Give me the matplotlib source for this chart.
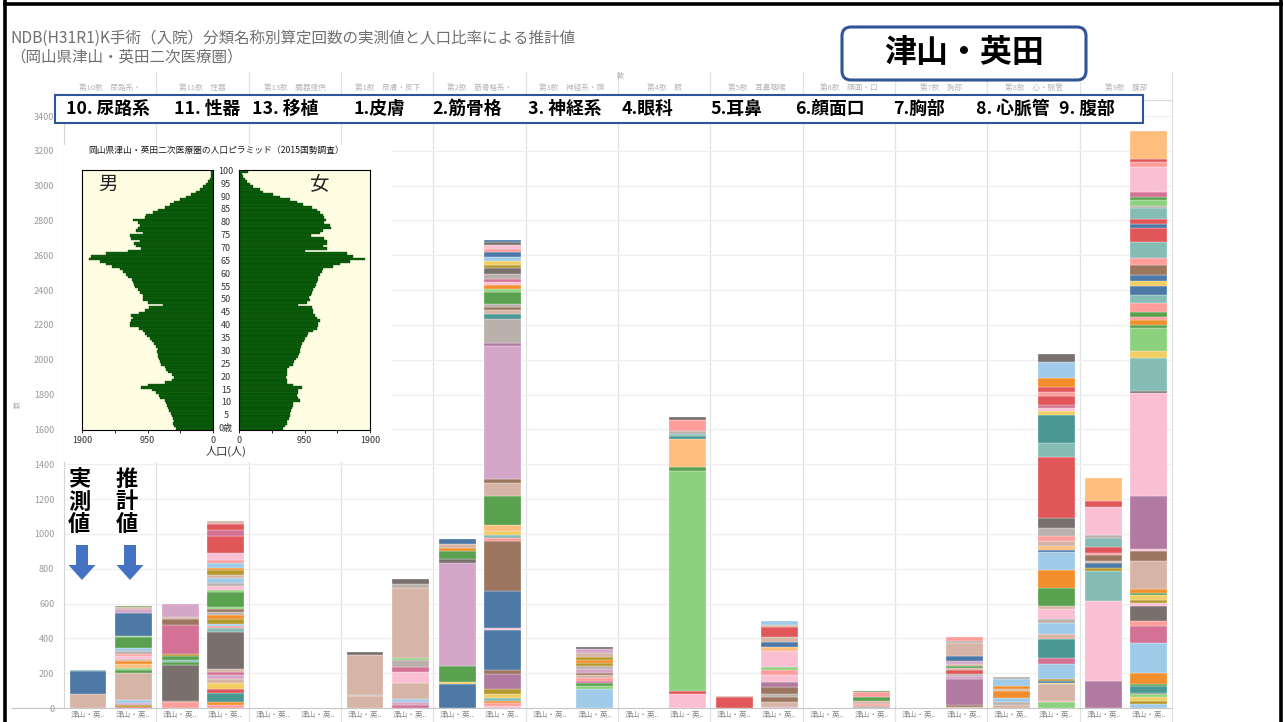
import matplotlib
matplotlib.use("Agg")
import matplotlib.pyplot as plt
from matplotlib.patches import FancyBboxPatch, FancyArrow, Rectangle
from matplotlib.transforms import blended_transform_factory

plt.rcParams['font.family'] = ['Noto Sans CJK JP', 'DejaVu Sans']

# ===== DATA =====

title_lines = ["NDB(H31R1)K手術（入院）分類名称別算定回数の実測値と人口比率による推計値",
               "（岡山県津山・英田二次医療圏）"]
region_name = "津山・英田"
box_labels = ["10. 尿路系", "11. 性器", "13. 移植", "1.皮膚", "2.筋骨格", "3. 神経系",
              "4.眼科", "5.耳鼻", "6.顔面口", "7.胸部", "8. 心脈管", "9. 腹部"]
header_labels = ["第10款　尿路系・", "第11款　性器", "第13款　臓器提供", "第1款　皮膚・皮下",
                 "第2款　筋骨格系・", "第3款　神経系・頭", "第4款　眼", "第5款　耳鼻咽喉",
                 "第6款　顔面・口", "第7款　胸部", "第8款　心・脈管", "第9款　腹部"]
bar_label = "津山・英.."
y_ticks = list(range(0, 3401, 200))

# stacked segments, bottom -> top: (count, colour key)
uro_act = [(80, 'lbrown'), (135, 'blue'), (5, 'lteal')]
uro_est = [(8, 'red'), (10, 'olive'), (12, 'lpurple'), (15, 'lblue'), (158, 'lbrown'), (13, 'green'),
           (15, 'lgreen'), (19, 'lorange'), (19, 'orange'), (15, 'lbrown'), (13, 'lpink'), (13, 'lred'),
           (19, 'lgray'), (15, 'lblue'), (62, 'green'), (10, 'lgreen'), (131, 'blue'), (19, 'lpurple'),
           (15, 'lbrown'), (6, 'green')]
gen_act = [(33, 'lred'), (6, 'brown'), (206, 'gray'), (19, 'green'), (13, 'lteal'), (19, 'green'),
           (12, 'olive'), (168, 'pink'), (33, 'brown'), (15, 'lbrown'), (71, 'lpurple')]
gen_est = [(19, 'lred'), (14, 'orange'), (52, 'teal'), (25, 'red'), (33, 'yellow'), (25, 'lbrown'),
           (19, 'lpurple'), (20, 'pink'), (19, 'lbrown'), (212, 'gray'), (19, 'lteal'), (14, 'lred'),
           (12, 'lblue'), (30, 'olive'), (22, 'orange'), (19, 'lgray'), (13, 'brown'), (12, 'lgreen'),
           (86, 'green'), (15, 'lgreen'), (20, 'lpink'), (20, 'lgray'), (25, 'lblue'), (20, 'lbrown'),
           (25, 'olive'), (15, 'orange'), (25, 'lblue'), (20, 'lred'), (40, 'lpink'), (95, 'red'),
           (35, 'pink'), (35, 'red'), (20, 'lbrown')]
tra_act = []
tra_est = []
skin_act = [(70, 'lbrown'), (5, 'lgray'), (230, 'lbrown'), (15, 'gray')]
skin_est = [(19, 'pink'), (13, 'lpurple'), (19, 'lblue'), (95, 'lbrown'), (58, 'lpink'), (32, 'pink'),
            (38, 'lgray'), (15, 'lgreen'), (400, 'lbrown'), (23, 'lgray'), (30, 'gray')]
msk_act = [(138, 'blue'), (10, 'yellow'), (95, 'green'), (592, 'lpurple'), (19, 'gray'), (48, 'green'),
           (19, 'orange'), (23, 'lbrown'), (29, 'blue')]
msk_est = [(13, 'lpink'), (13, 'lred'), (15, 'orange'), (19, 'lteal'), (19, 'yellow'), (29, 'olive'),
           (90, 'purple'), (19, 'brown'), (229, 'blue'), (11, 'lpink'), (214, 'blue'), (290, 'brown'),
           (15, 'lred'), (19, 'lteal'), (23, 'yellow'), (34, 'lorange'), (168, 'green'), (71, 'lbrown'),
           (25, 'brown'), (764, 'lpurple'), (19, 'purple'), (134, 'lgray'), (32, 'teal'), (19, 'lbrown'),
           (19, 'brown'), (19, 'lgray'), (67, 'green'), (19, 'lgreen'), (19, 'orange'), (19, 'lpink'),
           (19, 'pink'), (29, 'lgray'), (32, 'gray'), (19, 'olive'), (25, 'yellow'), (19, 'lblue'),
           (29, 'blue'), (19, 'lred'), (23, 'lpink'), (15, 'gray'), (15, 'blue')]
ner_act = []
ner_est = [(109, 'lblue'), (19, 'lgreen'), (13, 'green'), (15, 'pink'), (15, 'lred'), (19, 'lbrown'),
           (13, 'brown'), (19, 'lpurple'), (19, 'lgray'), (15, 'olive'), (19, 'orange'), (19, 'olive'),
           (23, 'lbrown'), (19, 'lpurple'), (15, 'gray')]
eye_act = []
eye_est = [(80, 'lpink'), (20, 'red'), (1264, 'lgreen'), (19, 'green'), (160, 'lorange'), (19, 'teal'),
           (12, 'lteal'), (15, 'lgray'), (63, 'lred'), (17, 'gray')]
ent_act = [(62, 'red'), (8, 'lbrown')]
ent_est = [(8, 'lpurple'), (25, 'lbrown'), (29, 'brown'), (19, 'lgray'), (38, 'brown'), (29, 'purple'),
           (44, 'lpink'), (27, 'lred'), (19, 'lgreen'), (92, 'lpink'), (23, 'lorange'), (25, 'blue'),
           (32, 'lbrown'), (54, 'red'), (15, 'lbrown'), (19, 'lblue')]
fac_act = []
fac_est = [(12, 'lgray'), (11, 'lred'), (19, 'lbrown'), (19, 'green'), (29, 'lred'), (10, 'green')]
chest_act = []
chest_est = [(8, 'lbrown'), (11, 'brown'), (147, 'purple'), (19, 'lpurple'), (13, 'lgray'), (19, 'red'),
             (15, 'lbrown'), (10, 'green'), (13, 'lbrown'), (15, 'lpurple'), (29, 'blue'), (76, 'lbrown'),
             (10, 'lgray'), (25, 'lred')]
card_act = [(19, 'lbrown'), (13, 'lgray'), (25, 'lblue'), (38, 'orange'), (13, 'lbrown'), (19, 'orange'),
            (38, 'lblue'), (13, 'lgray')]
card_est = [(33, 'lgreen'), (9, 'lred'), (94, 'lbrown'), (10, 'yellow'), (9, 'blue'), (10, 'olive'),
            (86, 'lblue'), (38, 'pink'), (105, 'teal'), (29, 'lbrown'), (67, 'lblue'), (19, 'lgray'),
            (57, 'lpink'), (19, 'lbrown'), (105, 'green'), (105, 'orange'), (101, 'lblue'), (14, 'blue'),
            (20, 'lorange'), (28, 'lbrown'), (28, 'lred'), (48, 'lgray'), (57, 'gray'), (348, 'red'),
            (82, 'lteal'), (159, 'teal'), (27, 'yellow'), (15, 'lpink'), (19, 'pink'), (49, 'red'),
            (25, 'lred'), (31, 'red'), (52, 'orange'), (92, 'lblue'), (45, 'gray')]
abd_act = [(157, 'purple'), (459, 'lpink'), (168, 'lteal'), (19, 'olive'), (29, 'blue'), (10, 'lbrown'),
           (38, 'brown'), (10, 'lred'), (32, 'red'), (54, 'lteal'), (19, 'lgray'), (162, 'lpink'),
           (32, 'red'), (134, 'lorange')]
abd_est = [(21, 'lblue'), (19, 'olive'), (23, 'yellow'), (15, 'lgreen'), (10, 'gray'), (38, 'teal'),
           (14, 'green'), (63, 'orange'), (172, 'lblue'), (95, 'pink'), (29, 'lred'), (86, 'gray'),
           (19, 'lpink'), (19, 'olive'), (25, 'yellow'), (13, 'green'), (23, 'orange'), (159, 'lbrown'),
           (58, 'brown'), (10, 'lpink'), (305, 'purple'), (592, 'lpink'), (10, 'gray'), (195, 'lteal'),
           (38, 'yellow'), (130, 'lgreen'), (19, 'green'), (29, 'orange'), (19, 'lred'), (29, 'green'),
           (48, 'lred'), (48, 'lteal'), (48, 'blue'), (32, 'yellow'), (35, 'blue'), (57, 'brown'),
           (39, 'lred'), (95, 'lteal'), (76, 'red'), (23, 'blue'), (31, 'red'), (61, 'lteal'),
           (15, 'lgray'), (33, 'lgreen'), (19, 'green'), (29, 'pink'), (144, 'lpink'), (25, 'lred'),
           (19, 'red'), (162, 'lorange')]

actual = [uro_act, gen_act, tra_act, skin_act, msk_act, ner_act,
          eye_act, ent_act, fac_act, chest_act, card_act, abd_act]
estimate = [uro_est, gen_est, tra_est, skin_est, msk_est, ner_est,
            eye_est, ent_est, fac_est, chest_est, card_est, abd_est]

# population pyramid, ages 0..100 (2015 census)
pyr_title = "岡山県津山・英田二次医療圏の人口ピラミッド（2015国勢調査）"
ages = list(range(101))
pop_male = [530, 560, 575, 570, 585, 600, 610, 640, 650, 660,
            680, 700, 770, 790, 820, 890, 1040, 950, 690, 590,
            560, 600, 650, 680, 690, 760, 770, 780, 800, 795,
            805, 800, 820, 850, 880, 920, 960, 990, 1020, 1080,
            1200, 1210, 1185, 1160, 1190, 1070, 990, 930, 730, 940,
            1010, 1020, 1015, 1060, 1090, 1130, 1140, 1160, 1180, 1230,
            1260, 1300, 1350, 1470, 1550, 1640, 1800, 1770, 1550, 1240,
            1040, 1110, 1140, 1060, 1190, 1210, 1020, 1110, 1090, 1060,
            1090, 1160, 990, 970, 870, 800, 700, 630, 560, 480,
            390, 315, 240, 195, 145, 100, 75, 50, 35, 25, 25]
pop_female = [640, 660, 690, 700, 720, 740, 745, 760, 765, 780,
              790, 880, 850, 835, 850, 860, 910, 790, 690, 690,
              680, 690, 690, 700, 720, 790, 800, 830, 850, 870,
              880, 890, 905, 920, 940, 955, 990, 1005, 1080, 1125,
              1150, 1140, 1175, 1130, 1100, 1080, 1070, 1055, 860, 980,
              1030, 1020, 1050, 1060, 1070, 1100, 1110, 1130, 1140, 1150,
              1175, 1200, 1225, 1370, 1460, 1610, 1830, 1660, 1560, 960,
              1270, 1220, 1280, 1270, 1230, 1050, 1180, 1225, 1340, 1320,
              1230, 1260, 1240, 1225, 1175, 1130, 1055, 935, 840, 740,
              600, 500, 355, 305, 210, 160, 110, 85, 65, 50, 135]
pyr_ticks = [1900, 950, 0]

# ===== STYLE =====

TAB = {
    'blue': '#4E79A7', 'lblue': '#A0CBE8', 'orange': '#F28E2B', 'lorange': '#FFBE7D',
    'green': '#59A14F', 'lgreen': '#8CD17D', 'olive': '#B6992D', 'yellow': '#F1CE63',
    'teal': '#499894', 'lteal': '#86BCB6', 'red': '#E15759', 'lred': '#FF9D9A',
    'gray': '#79706E', 'lgray': '#BAB0AC', 'pink': '#D37295', 'lpink': '#FABFD2',
    'purple': '#B07AA1', 'lpurple': '#D4A6C8', 'brown': '#9D7660', 'lbrown': '#D7B5A6',
}
FRAME_BLUE = '#2F5597'
ARROW_BLUE = '#4472C4'
GRID = '#EFEFEF'
SEP = '#E2E2E2'

W, H = 1284, 722
PLOT_L, PLOT_R, PLOT_T, PLOT_B = 64, 1172, 100, 708


def px_rect(x0, y0, x1, y1):
    return [x0 / W, 1 - y1 / H, (x1 - x0) / W, (y1 - y0) / H]


def pixel_axes(zorder):
    a = fig.add_axes([0, 0, 1, 1])
    a.set_xlim(0, W)
    a.set_ylim(H, 0)
    a.axis('off')
    a.set_zorder(zorder)
    a.patch.set_alpha(0)
    return a


fig = plt.figure(figsize=(W / 100, H / 100), dpi=100)
fig.patch.set_facecolor('white')

### ===== BACKGROUND LAYER (header row, separators, frame) =====

bg = pixel_axes(0)
n = len(box_labels)
pane_w = (PLOT_R - PLOT_L) / n
for i in range(1, n + 1):
    xs = PLOT_L + i * pane_w
    bg.plot([xs, xs], [72, 722], color=SEP, lw=0.9)
for i, lab in enumerate(header_labels):
    bg.text(PLOT_L + (i + 0.5) * pane_w, 88, lab, fontsize=5.5, color='#B5B5B5',
            ha='center', va='center')
bg.plot([PLOT_L, PLOT_R], [PLOT_T, PLOT_T], color='#DADADA', lw=0.9)
bg.plot([12, PLOT_L], [PLOT_B, PLOT_B], color='#C8C8C8', lw=0.9)
bg.text(620, 76, "款", fontsize=5, color='#AAAAAA', ha='center', va='center')
bg.text(18, 405, "数", fontsize=5, color='#AAAAAA', ha='center', va='center', rotation=90)

for i, lab in enumerate(title_lines):
    bg.text(10, 38 + i * 19, lab, fontsize=11.2, color='#707070', ha='left', va='center')

# slide frame
bg.plot([5, 5], [0, 722], color='black', lw=2.6, solid_capstyle='butt')
bg.plot([3, 1283], [4, 4], color='black', lw=2.6, solid_capstyle='butt')
bg.plot([1281, 1281], [0, 722], color='black', lw=2.6, solid_capstyle='butt')

### ===== MAIN STACKED BARS =====

ax = fig.add_axes(px_rect(PLOT_L, PLOT_T, PLOT_R, PLOT_B))
ax.set_zorder(1)
ax.patch.set_alpha(0)

xticks = []
for i, (act, est) in enumerate(zip(actual, estimate)):
    for xpos, segs in ((i + 0.26, act), (i + 0.75, est)):
        xticks.append(xpos)
        bottom = 0
        for val, key in segs:
            ax.bar(xpos, val, bottom=bottom, width=0.40, color=TAB[key],
                   edgecolor='white', linewidth=0.2)
            bottom += val

ax.set_xlim(0, n)
ax.set_ylim(0, 3492)
ax.set_yticks(y_ticks)
ax.set_yticklabels([str(t) for t in y_ticks], fontsize=6.5, color='#9A9A9A')
ax.set_xticks(xticks)
ax.set_xticklabels([bar_label] * len(xticks), fontsize=5.5, color='#8A8A8A')
ax.tick_params(axis='both', length=0)
ax.tick_params(axis='y', pad=7)
ax.tick_params(axis='x', pad=2)
ax.grid(axis='y', color=GRID, lw=0.9)
ax.set_axisbelow(True)
for s in ['top', 'right']:
    ax.spines[s].set_visible(False)
ax.spines['left'].set_color('#D5D5D5')
ax.spines['bottom'].set_color('#C8C8C8')

### ===== POPULATION PYRAMID INSET =====

cover = fig.add_axes(px_rect(64, 145, 391, 462))
cover.set_zorder(2)
cover.set_xticks([])
cover.set_yticks([])
for s in cover.spines.values():
    s.set_visible(False)

PYR_BG = '#FEFDE2'
PYR_GREEN = '#0B5E0B'
axm = fig.add_axes(px_rect(82, 170, 213, 430))
axf = fig.add_axes(px_rect(239, 170, 370, 430))
for a, pop in ((axm, pop_male), (axf, pop_female)):
    a.set_zorder(3)
    a.set_facecolor(PYR_BG)
    a.barh(ages, pop, height=1.0, color=PYR_GREEN, edgecolor='#083F08', linewidth=0.25)
    a.set_ylim(-0.5, 100.5)
    a.set_yticks([])
    a.set_xticks(pyr_ticks)
    a.set_xticks([1425, 475], minor=True)
    a.set_xticklabels([str(t) for t in pyr_ticks], fontsize=6.5, color='#333333')
    a.tick_params(axis='x', which='both', length=2.5, width=0.6, pad=1.5)
    for s in a.spines.values():
        s.set_linewidth(0.8)
axm.set_xlim(1900, 0)
axf.set_xlim(0, 1900)

### ===== TOP OVERLAY (annotations) =====

ov = pixel_axes(4)
ov.text(216, 150, pyr_title, fontsize=6.3, color='#1A1A1A', ha='center', va='center')
age_tr = blended_transform_factory(ov.transData, axm.transData)
for a in range(0, 101, 5):
    ov.text(226, a, "0歳" if a == 0 else str(a), transform=age_tr, fontsize=6.5,
            color='#333333', ha='center', va='center')
ov.text(226, 451, "人口(人)", fontsize=8, color='#333333', ha='center', va='center')
ov.text(108, 184, "男", fontsize=14, color='#222222', ha='center', va='center')
ov.text(320, 184, "女", fontsize=14, color='#222222', ha='center', va='center')

# category label box
ov.add_patch(Rectangle((55, 95), 1088, 28, facecolor='white', edgecolor=FRAME_BLUE, lw=1.5))
label_x = [108, 207, 285, 379, 467, 565, 647, 736, 830, 919, 1013, 1087]
for xc, lab in zip(label_x, box_labels):
    ov.text(xc, 109, lab, fontsize=12.8, fontweight='bold', color='black', ha='center', va='center')

# region name box
ov.add_patch(FancyBboxPatch((842, 27), 244, 53, boxstyle='round,pad=0,rounding_size=9',
                            facecolor='white', edgecolor=FRAME_BLUE, lw=2.2))
ov.text(964, 53, region_name, fontsize=23, fontweight='bold', color='black', ha='center', va='center')

# 実測値 / 推計値 markers
for xc, lab in ((79, "実\n測\n値"), (127, "推\n計\n値")):
    ov.text(xc, 502, lab, fontsize=16, fontweight='bold', color='black', ha='center',
            va='center', linespacing=0.95)
    ov.add_patch(FancyArrow(xc + 3, 545, 0, 35, width=12, head_width=27, head_length=15,
                            length_includes_head=True, color=ARROW_BLUE, lw=0))

fig.savefig("out.png", dpi=100)
